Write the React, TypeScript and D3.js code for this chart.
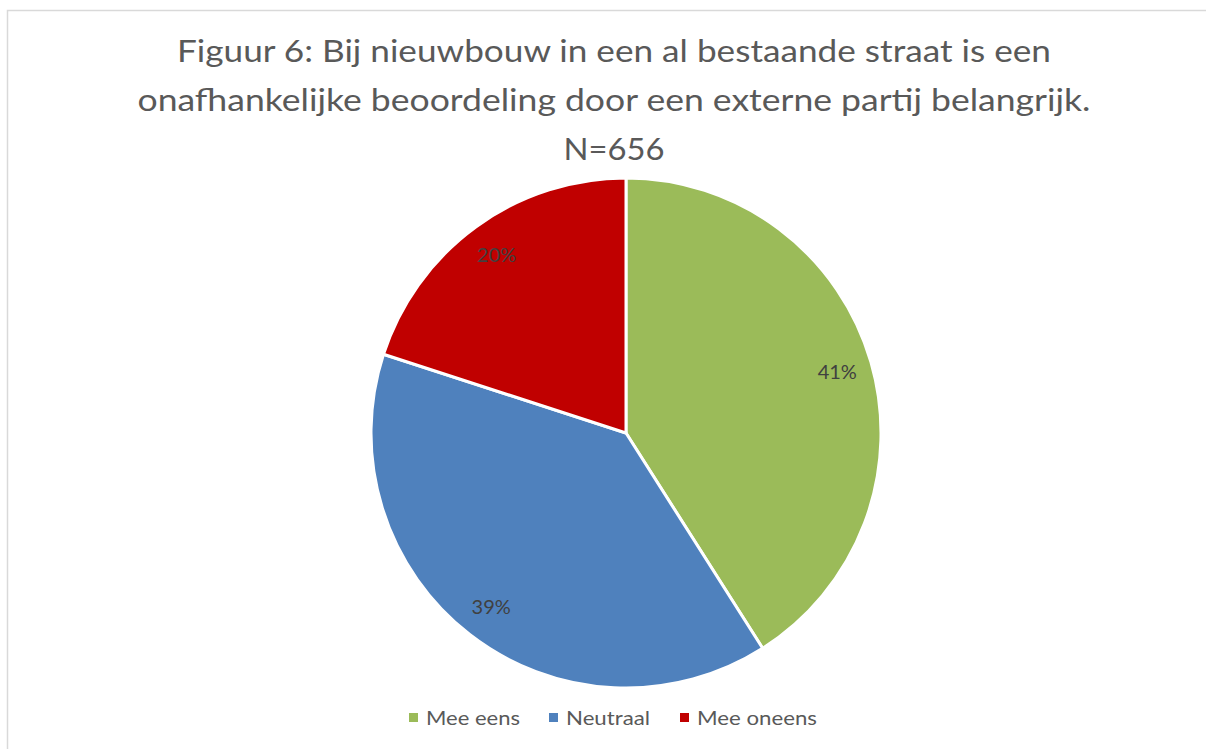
import React from "react";
import * as d3 from "d3";

const categories = ["Mee eens", "Neutraal", "Mee oneens"];
const values = [41, 39, 20];
const colors = ["#9BBB59", "#4F81BD", "#C00000"];
const titleLines = [
  "Figuur 6: Bij nieuwbouw in een al bestaande straat is een",
  "onafhankelijke beoordeling door een externe partij belangrijk.",
  "N=656",
];

const W = 1206;
const H = 749;
const FONT = "Lato, 'Open Sans', sans-serif";

export default function App() {
  const cx = 626;
  const cy = 433;
  const r = 255;
  const pie = d3.pie<number>().sort(null).value((d) => d);
  const arcs = pie(values);
  const arc = d3.arc<d3.PieArcDatum<number>>().innerRadius(0).outerRadius(r);
  const labelArc = d3.arc<d3.PieArcDatum<number>>().innerRadius(220).outerRadius(220);

  const titleWidths = [874, 953, 101];
  const legendItems = [
    { x: 409, w: 94 },
    { x: 549, w: 84 },
    { x: 680, w: 120 },
  ];

  return (
    <svg
      width={W}
      height={H}
      style={{ position: "absolute", left: 0, top: 0, background: "#fff" }}
    >
      <rect x={7.5} y={10.5} width={1230} height={760} fill="#fff" stroke="#d9d9d9" strokeWidth={1.5} />
      {titleLines.map((t, i) => (
        <text
          key={i}
          x={614}
          y={62 + i * 49}
          textAnchor="middle"
          fontFamily={FONT}
          fontSize={30}
          fill="#595959"
          textLength={titleWidths[i]}
          lengthAdjust="spacingAndGlyphs"
        >
          {t}
        </text>
      ))}
      <g transform={`translate(${cx},${cy})`}>
        {arcs.map((a, i) => (
          <path key={i} d={arc(a) || ""} fill={colors[i]} stroke="#fff" strokeWidth={3} strokeLinejoin="round" />
        ))}
        {arcs.map((a, i) => {
          const [lx, ly] = labelArc.centroid(a);
          return (
            <text
              key={"l" + i}
              x={lx}
              y={ly}
              dy="0.35em"
              textAnchor="middle"
              fontFamily={FONT}
              fontSize={20}
              fill="#404040"
            >
              {values[i]}%
            </text>
          );
        })}
      </g>
      {categories.map((c, i) => (
        <g key={c}>
          <rect x={legendItems[i].x} y={713} width={9} height={9} fill={colors[i]} />
          <text
            x={legendItems[i].x + 17}
            y={725}
            fontFamily={FONT}
            fontSize={20}
            fill="#595959"
            textLength={legendItems[i].w}
            lengthAdjust="spacingAndGlyphs"
          >
            {c}
          </text>
        </g>
      ))}
    </svg>
  );
}
